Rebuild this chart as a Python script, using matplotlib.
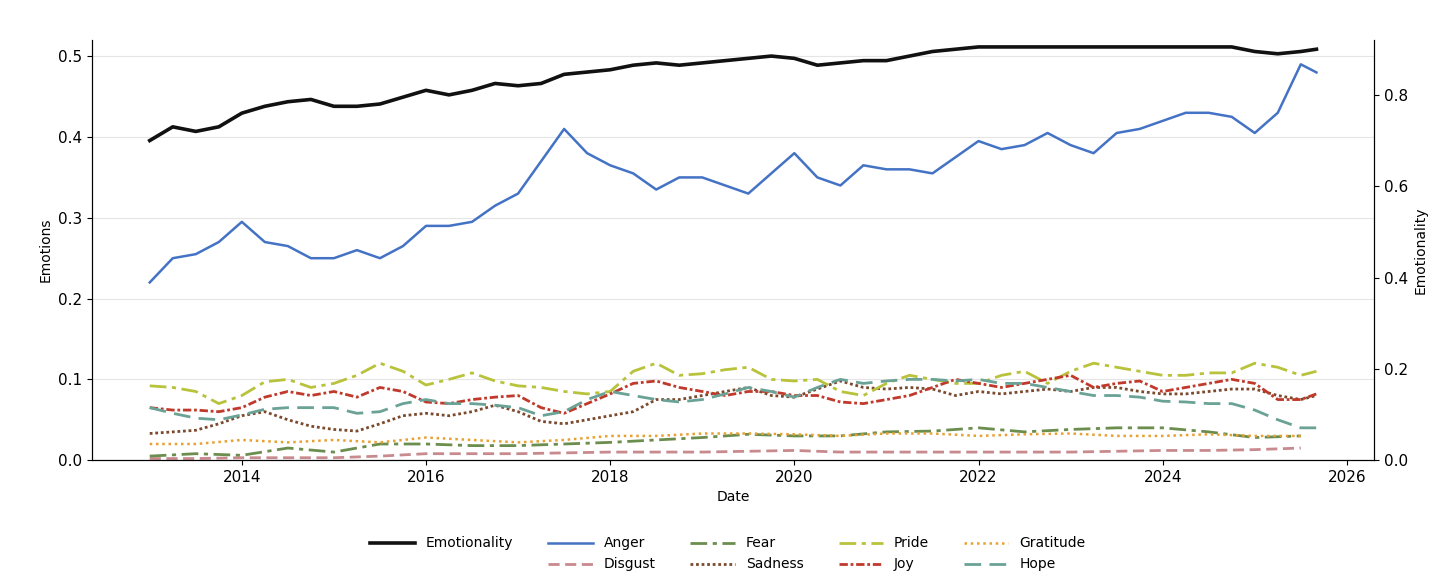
import matplotlib
matplotlib.use('Agg')
import matplotlib.pyplot as plt
from matplotlib.lines import Line2D
import numpy as np

# quarterly dates 2013.0 .. 2025.5, plus last point; half-yearly for the flat series
q_dates = list(np.arange(2013.0, 2025.51, 0.25)) + [2025.67]
h_dates = list(np.arange(2013.0, 2025.51, 0.5))

emotionality = [0.70, 0.73, 0.72, 0.73, 0.76, 0.775, 0.785, 0.79, 0.775, 0.775, 0.78, 0.795,
                0.81, 0.80, 0.81, 0.825, 0.82, 0.825, 0.845, 0.85, 0.855, 0.865, 0.87, 0.865,
                0.87, 0.875, 0.88, 0.885, 0.88, 0.865, 0.87, 0.875, 0.875, 0.885, 0.895, 0.90,
                0.905, 0.905, 0.905, 0.905, 0.905, 0.905, 0.905, 0.905, 0.905, 0.905, 0.905, 0.905,
                0.895, 0.89, 0.895, 0.90]
anger = [0.22, 0.25, 0.255, 0.27, 0.295, 0.27, 0.265, 0.25, 0.25, 0.26, 0.25, 0.265,
         0.29, 0.29, 0.295, 0.315, 0.33, 0.37, 0.41, 0.38, 0.365, 0.355, 0.335, 0.35,
         0.35, 0.34, 0.33, 0.355, 0.38, 0.35, 0.34, 0.365, 0.36, 0.36, 0.355, 0.375,
         0.395, 0.385, 0.39, 0.405, 0.39, 0.38, 0.405, 0.41, 0.42, 0.43, 0.43, 0.425,
         0.405, 0.43, 0.49, 0.48]
pride = [0.092, 0.09, 0.085, 0.07, 0.08, 0.097, 0.10, 0.09, 0.095, 0.105, 0.12, 0.11,
         0.093, 0.10, 0.108, 0.098, 0.092, 0.09, 0.085, 0.082, 0.085, 0.11, 0.12, 0.105,
         0.107, 0.112, 0.115, 0.10, 0.098, 0.10, 0.085, 0.08, 0.095, 0.105, 0.10, 0.095,
         0.095, 0.105, 0.11, 0.095, 0.11, 0.12, 0.115, 0.11, 0.105, 0.105, 0.108, 0.108,
         0.12, 0.115, 0.105, 0.11]
joy = [0.065, 0.062, 0.062, 0.06, 0.065, 0.078, 0.085, 0.08, 0.085, 0.078, 0.09, 0.085,
       0.072, 0.07, 0.075, 0.078, 0.08, 0.065, 0.058, 0.07, 0.082, 0.095, 0.098, 0.09,
       0.085, 0.08, 0.085, 0.085, 0.08, 0.08, 0.072, 0.07, 0.075, 0.08, 0.09, 0.10,
       0.095, 0.09, 0.095, 0.10, 0.105, 0.09, 0.095, 0.098, 0.085, 0.09, 0.095, 0.10,
       0.095, 0.075, 0.075, 0.082]
sadness = [0.033, 0.035, 0.037, 0.045, 0.055, 0.06, 0.05, 0.042, 0.038, 0.036, 0.045, 0.055,
           0.058, 0.055, 0.06, 0.068, 0.06, 0.048, 0.045, 0.05, 0.055, 0.06, 0.075, 0.075,
           0.08, 0.085, 0.09, 0.08, 0.078, 0.088, 0.098, 0.09, 0.088, 0.09, 0.088, 0.08,
           0.085, 0.082, 0.085, 0.088, 0.085, 0.09, 0.09, 0.085, 0.082, 0.082, 0.085, 0.088,
           0.088, 0.08, 0.075, 0.08]
hope = [0.065, 0.058, 0.052, 0.05, 0.056, 0.063, 0.065, 0.065, 0.065, 0.058, 0.06, 0.07,
        0.075, 0.07, 0.07, 0.068, 0.065, 0.055, 0.06, 0.075, 0.085, 0.08, 0.075, 0.072,
        0.075, 0.082, 0.09, 0.085, 0.078, 0.09, 0.10, 0.095, 0.098, 0.10, 0.10, 0.098,
        0.10, 0.095, 0.095, 0.09, 0.085, 0.08, 0.08, 0.078, 0.073, 0.072, 0.07, 0.07,
        0.062, 0.05, 0.04, 0.04]
gratitude = [0.02, 0.02, 0.025, 0.022, 0.025, 0.022, 0.028, 0.025, 0.022, 0.025, 0.03, 0.03, 0.033,
             0.033, 0.032, 0.03, 0.033, 0.033, 0.03, 0.032, 0.033, 0.03, 0.03, 0.032, 0.03, 0.03]
fear = [0.005, 0.008, 0.006, 0.015, 0.01, 0.02, 0.02, 0.018, 0.018, 0.02, 0.022, 0.025, 0.028,
        0.032, 0.03, 0.03, 0.035, 0.036, 0.04, 0.035, 0.038, 0.04, 0.04, 0.035, 0.028, 0.03]
disgust = [0.002, 0.002, 0.003, 0.003, 0.003, 0.005, 0.008, 0.008, 0.008, 0.009, 0.01, 0.01, 0.01,
           0.011, 0.012, 0.01, 0.01, 0.01, 0.01, 0.01, 0.01, 0.011, 0.012, 0.012, 0.013, 0.015]

fig, ax = plt.subplots(figsize=(14.56, 5.81), dpi=100)
fig.subplots_adjust(left=0.063, right=0.944, top=0.931, bottom=0.208)
ax2 = ax.twinx()

l_em, = ax2.plot(q_dates, emotionality, color='#111111', lw=2.6, label='Emotionality')
l_an, = ax.plot(q_dates, anger, color='#4472C4', lw=1.8, label='Anger')
l_di, = ax.plot(h_dates, disgust, color='#C98A8E', lw=2, ls=(0, (4, 2)), label='Disgust')
l_fe, = ax.plot(h_dates, fear, color='#6B8E4E', lw=2, ls=(0, (6, 2, 1.5, 2)), label='Fear')
l_sa, = ax.plot(q_dates, sadness, color='#7B4A2E', lw=2, ls=(0, (1, 1)), label='Sadness')
l_pr, = ax.plot(q_dates, pride, color='#B8C23A', lw=2, ls=(0, (6, 2, 1.5, 2)), label='Pride')
l_jo, = ax.plot(q_dates, joy, color='#C0392B', lw=2, ls=(0, (3, 1, 1, 1)), label='Joy')
l_gr, = ax.plot(h_dates, gratitude, color='#E8A030', lw=1.8, ls=(0, (1, 1.5)), label='Gratitude')
l_ho, = ax.plot(q_dates, hope, color='#6AA296', lw=2, ls=(0, (6, 3)), label='Hope')

ax.set_ylim(0, 0.52)
ax2.set_ylim(0, 0.92)
ax.set_xlim(2012.37, 2026.3)
ax.set_xticks([2014, 2016, 2018, 2020, 2022, 2024, 2026])
ax.set_yticks([0, 0.1, 0.2, 0.3, 0.4, 0.5])
ax2.set_yticks([0, 0.2, 0.4, 0.6, 0.8])
ax.grid(axis='y', color='#e5e5e5', lw=0.8)
ax.set_axisbelow(True)
ax.tick_params(labelsize=11)
ax2.tick_params(labelsize=11)
ax.set_xlabel('Date', fontsize=10)
ax.set_ylabel('Emotions', fontsize=10)
ax2.set_ylabel('Emotionality', fontsize=10)
for a in (ax, ax2):
    a.spines['top'].set_visible(False)

blank = Line2D([], [], color='none')
handles = [l_em, blank, l_an, l_di, l_fe, l_sa, l_pr, l_jo, l_gr, l_ho]
labels = ['Emotionality', '', 'Anger', 'Disgust', 'Fear', 'Sadness', 'Pride', 'Joy', 'Gratitude', 'Hope']
fig.legend(handles, labels, loc='lower center', ncol=5, frameon=False, fontsize=10,
           bbox_to_anchor=(0.5, -0.005), handlelength=3.2, columnspacing=2.5, labelspacing=0.5)

fig.savefig('out.png', dpi=100)
